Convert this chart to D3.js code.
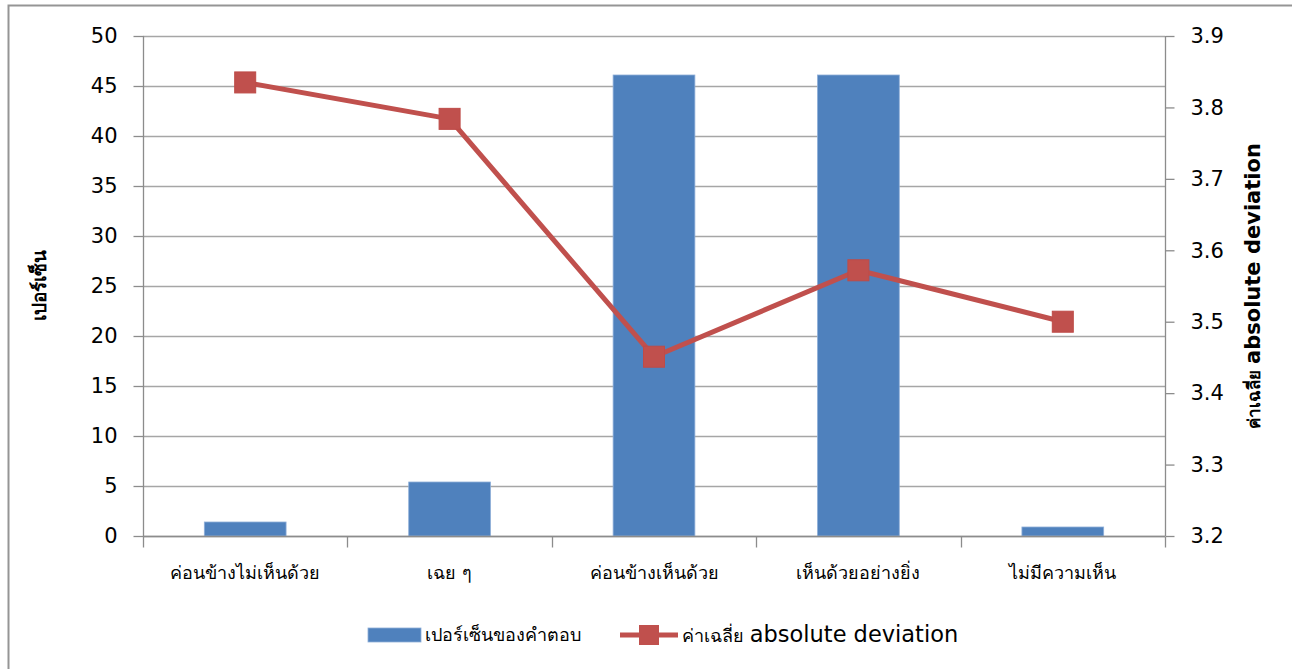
<!DOCTYPE html>
<html>
<head>
<meta charset="utf-8">
<script src="https://cdn.jsdelivr.net/npm/d3@7/dist/d3.min.js"></script>
<style>
  html, body { margin: 0; padding: 0; background: #fff; }
  svg { display: block; }
  text { font-family: Tahoma, "DejaVu Sans", "Noto Sans", sans-serif; fill: #000; }
</style>
</head>
<body>
<svg id="chart" width="1292" height="669"></svg>
<script>
// Response categories
const categories = ["ค่อนข้างไม่เห็นด้วย", "เฉย ๆ", "ค่อนข้างเห็นด้วย", "เห็นด้วยอย่างยิ่ง", "ไม่มีความเห็น"];
// Percentage of answers (left axis)
const percentValues = [1.4, 5.4, 46.1, 46.1, 0.9];
// Mean absolute deviation (right axis)
const madValues = [3.835, 3.784, 3.451, 3.572, 3.50];
// Tick labels
const leftTicks = [0, 5, 10, 15, 20, 25, 30, 35, 40, 45, 50];
const rightTicks = [3.2, 3.3, 3.4, 3.5, 3.6, 3.7, 3.8, 3.9];

const barName = "เปอร์เซ็นของคำตอบ";
const lineNameThai = "ค่าเฉลี่ย ";
const lineNameEn = "absolute deviation";
const leftTitle = "เปอร์เซ็น";

const svg = d3.select("#chart");
const plot = { left: 143, right: 1165, top: 36, bottom: 536 };

// Outer chart frame
svg.append("rect")
  .attr("x", 8.5).attr("y", 5.5)
  .attr("width", 1300).attr("height", 700)
  .attr("fill", "#fff")
  .attr("stroke", "#959595").attr("stroke-width", 2);

const x = d3.scaleBand().domain(categories).range([plot.left, plot.right]).paddingInner(0).paddingOuter(0);
const yL = d3.scaleLinear().domain([0, 50]).range([plot.bottom, plot.top]);
const yR = d3.scaleLinear().domain([3.2, 3.9]).range([plot.bottom, plot.top]);

const gridColor = "#a6a6a6";
const axisColor = "#8c8c8c";

// Horizontal gridlines
svg.append("g").selectAll("line").data(leftTicks).join("line")
  .attr("x1", plot.left).attr("x2", plot.right)
  .attr("y1", d => Math.round(yL(d)) + 0.5).attr("y2", d => Math.round(yL(d)) + 0.5)
  .attr("stroke", gridColor).attr("stroke-width", 1.3);

// Bars
const barW = x.bandwidth() * 0.4;
svg.append("g").selectAll("rect").data(percentValues).join("rect")
  .attr("x", (d, i) => x(categories[i]) + (x.bandwidth() - barW) / 2)
  .attr("y", d => yL(d))
  .attr("width", barW)
  .attr("height", d => yL(0) - yL(d))
  .attr("fill", "#4f81bd")
  .attr("stroke", "#8eaed8").attr("stroke-width", 0.8);

// Left axis
const axL = svg.append("g").attr("transform", `translate(${plot.left + 0.5},0)`)
  .call(d3.axisLeft(yL).tickValues(leftTicks).tickSize(10).tickPadding(16).tickFormat(d3.format("d")));
axL.select(".domain").attr("stroke", axisColor).attr("stroke-width", 1.3).attr("d", `M0,${plot.top}V${plot.bottom}`);
axL.selectAll(".tick line").attr("stroke", axisColor).attr("stroke-width", 1.3);
axL.selectAll(".tick text").attr("font-size", 21).attr("font-family", "Tahoma, 'DejaVu Sans', sans-serif").attr("fill", "#000");

// Right axis
const axR = svg.append("g").attr("transform", `translate(${plot.right + 0.5},0)`)
  .call(d3.axisRight(yR).tickValues(rightTicks).tickSize(9).tickPadding(16).tickFormat(d3.format(".1f")));
axR.select(".domain").attr("stroke", axisColor).attr("stroke-width", 1.3).attr("d", `M0,${plot.top}V${plot.bottom}`);
axR.selectAll(".tick line").attr("stroke", axisColor).attr("stroke-width", 1.3);
axR.selectAll(".tick text").attr("font-size", 21).attr("font-family", "Tahoma, 'DejaVu Sans', sans-serif").attr("fill", "#000");

// Category axis with ticks at band boundaries
const axB = svg.append("g").attr("transform", `translate(0,${plot.bottom + 0.5})`);
axB.append("line").attr("x1", plot.left).attr("x2", plot.right)
  .attr("stroke", axisColor).attr("stroke-width", 1.3);
const bounds = categories.map(c => x(c)).concat([plot.right]);
axB.selectAll("line.tk").data(bounds).join("line").attr("class", "tk")
  .attr("x1", d => Math.round(d) + 0.5).attr("x2", d => Math.round(d) + 0.5)
  .attr("y1", 0).attr("y2", 11)
  .attr("stroke", axisColor).attr("stroke-width", 1.3);
axB.selectAll("text").data(categories).join("text")
  .attr("x", d => x(d) + x.bandwidth() / 2)
  .attr("y", 42)
  .attr("text-anchor", "middle")
  .attr("font-size", 18)
  .text(d => d);

// Line series
const pts = madValues.map((v, i) => [x(categories[i]) + x.bandwidth() / 2, yR(v)]);
svg.append("path")
  .attr("d", d3.line()(pts))
  .attr("fill", "none").attr("stroke", "#c0504d").attr("stroke-width", 5)
  .attr("stroke-linejoin", "round");
const mk = 21;
svg.append("g").selectAll("rect").data(pts).join("rect")
  .attr("x", d => d[0] - mk / 2).attr("y", d => d[1] - mk / 2)
  .attr("width", mk).attr("height", mk)
  .attr("fill", "#c0504d").attr("stroke", "#be4b48").attr("stroke-width", 1);

// Axis titles
svg.append("text")
  .attr("transform", `translate(46,${(plot.top + plot.bottom) / 2 - 1}) rotate(-90)`)
  .attr("text-anchor", "middle")
  .attr("font-size", 19).attr("font-weight", "bold")
  .text(leftTitle);

const rt = svg.append("text")
  .attr("transform", `translate(1260,${(plot.top + plot.bottom) / 2}) rotate(-90)`)
  .attr("text-anchor", "middle")
  .attr("font-weight", "bold");
rt.append("tspan").attr("font-size", 17).text(lineNameThai);
rt.append("tspan").attr("font-size", 21).text(lineNameEn);

// Legend
const lg = svg.append("g");
lg.append("rect").attr("x", 368).attr("y", 628).attr("width", 53).attr("height", 14)
  .attr("fill", "#4f81bd").attr("stroke", "#8eaed8").attr("stroke-width", 0.8);
lg.append("text").attr("x", 425).attr("y", 641).attr("font-size", 18).text(barName);
lg.append("line").attr("x1", 620).attr("x2", 678).attr("y1", 635).attr("y2", 635)
  .attr("stroke", "#c0504d").attr("stroke-width", 5);
lg.append("rect").attr("x", 639).attr("y", 625).attr("width", 20).attr("height", 20)
  .attr("fill", "#c0504d");
const lt = lg.append("text").attr("x", 682).attr("y", 642);
lt.append("tspan").attr("font-size", 18).text(lineNameThai);
lt.append("tspan").attr("font-size", 22.5).text(lineNameEn);
</script>
</body>
</html>
